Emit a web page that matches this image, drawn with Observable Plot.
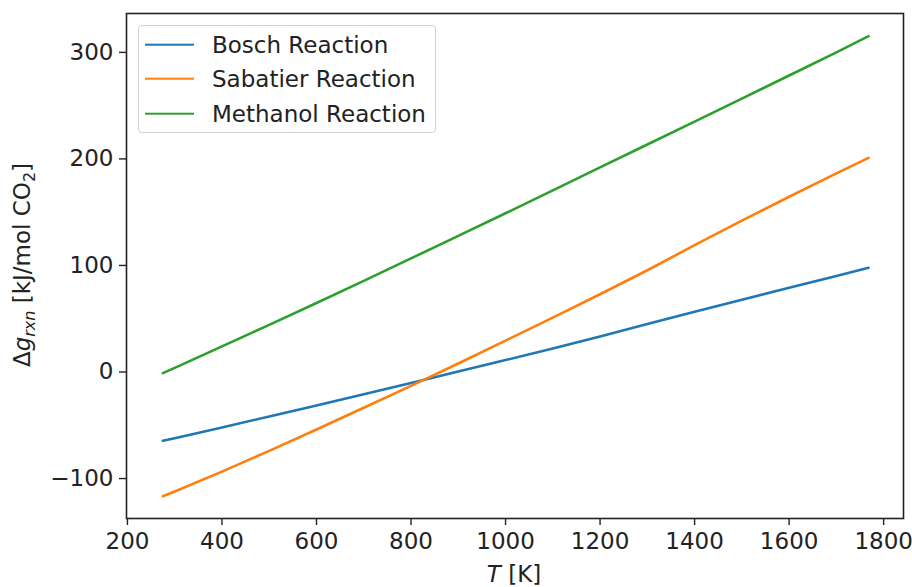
<!DOCTYPE html>
<html>
<head>
<meta charset="utf-8">
<script src="https://cdn.jsdelivr.net/npm/d3@7"></script>
<script src="https://cdn.jsdelivr.net/npm/@observablehq/plot@0.6"></script>
<style>
  html, body { margin: 0; padding: 0; background: #fff; }
  #wrap { position: relative; width: 912px; height: 587px; font-family: "DejaVu Sans", sans-serif; }
  #legend { position: absolute; left: 138px; top: 25px; width: 298px; height: 108px;
    border: 1px solid #d0d0d0; border-radius: 4px; background: rgba(255,255,255,0.85); box-sizing: border-box; }
  .lrow { position: absolute; left: 0; height: 0; }
  .lline { position: absolute; left: 6px; width: 49px; height: 0; border-top: 2.6px solid; transform: translateY(-1.3px); }
  .ltext { position: absolute; left: 73px; top: -14px; font-size: 23px; line-height: 28px; white-space: nowrap; color: #222; }
</style>
</head>
<body>
<div id="wrap"><div id="legend"></div></div>
<script>
const seriesNames = ["Bosch Reaction", "Sabatier Reaction", "Methanol Reaction"];
const seriesColors = ["#1f77b4", "#ff7f0e", "#2ca02c"];
const temps = [275, 300, 400, 500, 600, 700, 800, 900, 1000, 1100, 1200, 1300, 1400, 1500, 1600, 1700, 1768];
const bosch = [-64.6, -62.1, -52.0, -41.7, -31.4, -20.9, -10.3, 0.4, 11.2, 22.1, 33.4, 45.0, 56.5, 67.8, 79.0, 90.1, 97.8];
const sabatier = [-116.6, -112.2, -93.5, -74.0, -54.0, -33.5, -13.0, 8.0, 29.5, 51.0, 73.0, 95.5, 119.0, 142.0, 164.5, 186.5, 201.0];
const methanol = [-1.1, 3.9, 24.0, 44.3, 64.8, 85.6, 106.6, 127.8, 149.0, 170.5, 192.0, 213.5, 235.0, 256.6, 278.3, 300.0, 315.3];
const xTicks = [200, 400, 600, 800, 1000, 1200, 1400, 1600, 1800];
const yTicks = [-100, 0, 100, 200, 300];

const seriesValues = [bosch, sabatier, methanol];
const data = [];
seriesNames.forEach((name, i) => {
  temps.forEach((t, j) => data.push({T: t, g: seriesValues[i][j], series: name}));
});

const fmt = d => d < 0 ? "\u2212" + Math.abs(d) : String(d);

const chart = Plot.plot({
  width: 912,
  height: 587,
  marginLeft: 126,
  marginRight: 9,
  marginTop: 13,
  marginBottom: 69,
  style: {fontFamily: "DejaVu Sans", fontSize: "23px", color: "#222", background: "transparent", overflow: "visible"},
  x: {domain: [198, 1842], label: null},
  y: {domain: [-137.5, 336.5], label: null},
  color: {domain: seriesNames, range: seriesColors},
  marks: [
    Plot.line(data, {x: "T", y: "g", z: "series", stroke: "series", strokeWidth: 2.6, curve: "linear"}),
    Plot.frame({stroke: "#222", strokeWidth: 1.6}),
    Plot.axisX({ticks: xTicks, tickFormat: fmt, tickSize: 7, tickPadding: 7, stroke: "#222", strokeWidth: 1.4, fontSize: 23, label: null}),
    Plot.axisY({ticks: yTicks, tickFormat: fmt, tickSize: 7, tickPadding: 6, stroke: "#222", strokeWidth: 1.4, fontSize: 23, label: null})
  ]
});

const wrap = document.getElementById("wrap");
wrap.insertBefore(chart, wrap.firstChild);

// axis titles
const svg = d3.select(chart);
const xt = svg.append("text")
  .attr("x", 514).attr("y", 582)
  .attr("text-anchor", "middle")
  .attr("font-family", "DejaVu Sans").attr("font-size", 23).attr("fill", "#222");
xt.append("tspan").attr("font-style", "italic").text("T");
xt.append("tspan").text(" [K]");

const yt = svg.append("text")
  .attr("transform", "translate(30,265) rotate(-90)")
  .attr("text-anchor", "middle")
  .attr("font-family", "DejaVu Sans").attr("font-size", 23).attr("fill", "#222");
yt.append("tspan").text("\u0394");
yt.append("tspan").attr("font-style", "italic").text("g");
yt.append("tspan").attr("font-style", "italic").attr("font-size", 16).attr("dy", 5).text("rxn");
yt.append("tspan").attr("dy", -5).text(" [kJ/mol CO");
yt.append("tspan").attr("font-size", 16).attr("dy", 5).text("2");
yt.append("tspan").attr("dy", -5).text("]");

// legend
const legend = document.getElementById("legend");
const rowY = [18.5, 53, 87.5];
seriesNames.forEach((name, i) => {
  const row = document.createElement("div");
  row.className = "lrow";
  row.style.top = rowY[i] + "px";
  const line = document.createElement("div");
  line.className = "lline";
  line.style.borderTopColor = seriesColors[i];
  const txt = document.createElement("div");
  txt.className = "ltext";
  txt.textContent = name;
  row.appendChild(line);
  row.appendChild(txt);
  legend.appendChild(row);
});
</script>
</body>
</html>
